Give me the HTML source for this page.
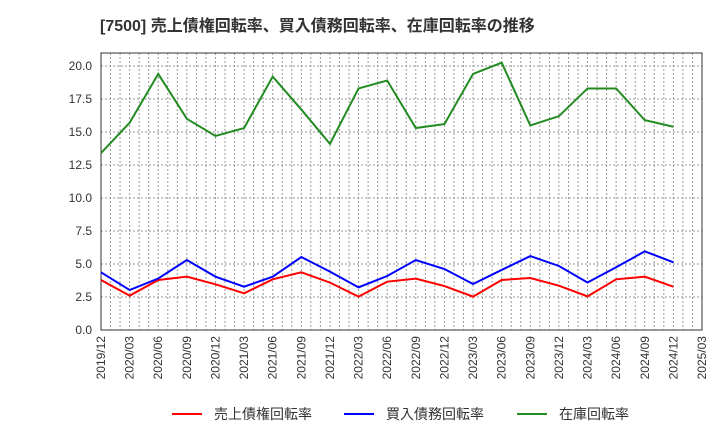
<!DOCTYPE html>
<html><head><meta charset="utf-8"><style>
body{margin:0;background:#fff;font-family:"Liberation Sans","Noto Sans CJK JP",sans-serif}
svg text{font-family:"Liberation Sans","Noto Sans CJK JP",sans-serif}
</style></head><body>
<svg id="c" width="720" height="440" xmlns="http://www.w3.org/2000/svg">
<text x="100" y="31" font-size="16" font-weight="bold" fill="#333">[7500]  売上債権回転率、買入債務回転率、在庫回転率の推移</text>
<g id="grid"></g><g id="axes"></g><g id="series"></g>
<g id="legend"></g>
</svg>
<script>
const categories=["2019/12","2020/03","2020/06","2020/09","2020/12","2021/03","2021/06","2021/09","2021/12","2022/03","2022/06","2022/09","2022/12","2023/03","2023/06","2023/09","2023/12","2024/03","2024/06","2024/09","2024/12"];
const tickLabels=["2019/12","2020/03","2020/06","2020/09","2020/12","2021/03","2021/06","2021/09","2021/12","2022/03","2022/06","2022/09","2022/12","2023/03","2023/06","2023/09","2023/12","2024/03","2024/06","2024/09","2024/12","2025/03"];
const yTicks=[0,2.5,5,7.5,10,12.5,15,17.5,20];
const receivables=[3.79,2.6,3.79,4.04,3.46,2.78,3.84,4.37,3.59,2.53,3.66,3.89,3.33,2.53,3.79,3.94,3.36,2.55,3.84,4.04,3.28];
const payables=[4.37,3.03,3.9,5.3,4.04,3.28,4.04,5.53,4.42,3.23,4.09,5.3,4.62,3.48,4.55,5.6,4.85,3.6,4.75,5.96,5.13];
const inventory=[13.4,15.7,19.4,16.0,14.7,15.3,19.2,16.7,14.1,18.3,18.9,15.3,15.6,19.4,20.25,15.5,16.2,18.3,18.3,15.9,15.4];
const L=101,R=702,T=53,B=330,NQ=21;
const xs=i=>L+(R-L)*i/NQ;
const ys=v=>B-(B-66)*v/20;
const NS="http://www.w3.org/2000/svg";
function mk(tag,attrs,parent){const e=document.createElementNS(NS,tag);for(const k in attrs)e.setAttribute(k,attrs[k]);parent.appendChild(e);return e;}
const grid=document.getElementById('grid'),axes=document.getElementById('axes'),ser=document.getElementById('series'),leg=document.getElementById('legend');
for(let m=1;m<NQ*3;m++){const x=L+(R-L)*m/(NQ*3);
const g=mk('line',{x1:x,x2:x,y1:T,y2:B,stroke:'#999','stroke-dasharray':'2,2','stroke-width':1},grid);

}
yTicks.forEach(v=>{const y=ys(v);
const g=mk('line',{x1:L,x2:R,y1:y,y2:y,stroke:'#999','stroke-dasharray':'2,2','stroke-width':1},grid);


const t=mk('text',{x:L-9,y:y+4,'font-size':12,'text-anchor':'end',fill:'#333'},axes);t.textContent=v.toFixed(1);

});
tickLabels.forEach((s,i)=>{const x=xs(i);
const t=mk('text',{x:0,y:0,'font-size':12,'text-anchor':'end',fill:'#333',transform:`translate(${x+4},${B+6}) rotate(-90)`},axes);t.textContent=s;

});
const fr=mk('rect',{x:L,y:T,width:R-L,height:B-T,fill:'none',stroke:'#333','stroke-width':1},axes);


const series=[["売上債権回転率",receivables,"#ff0000","receivables-line"],["買入債務回転率",payables,"#0000ff","payables-line"],["在庫回転率",inventory,"#228b22","inventory-line"]];
series.forEach(([name,d,c,n],k)=>{
const p=mk('polyline',{points:d.map((v,i)=>xs(i)+','+ys(v)).join(' '),fill:'none',stroke:c,'stroke-width':2},ser);


const lx=[172,344,517][k];
const ll=mk('line',{x1:lx,x2:lx+30,y1:414,y2:414,stroke:c,'stroke-width':2},leg);


const lt=mk('text',{x:lx+42,y:419,'font-size':14,fill:'#333'},leg);lt.textContent=name;


});
</script>
</body></html>
